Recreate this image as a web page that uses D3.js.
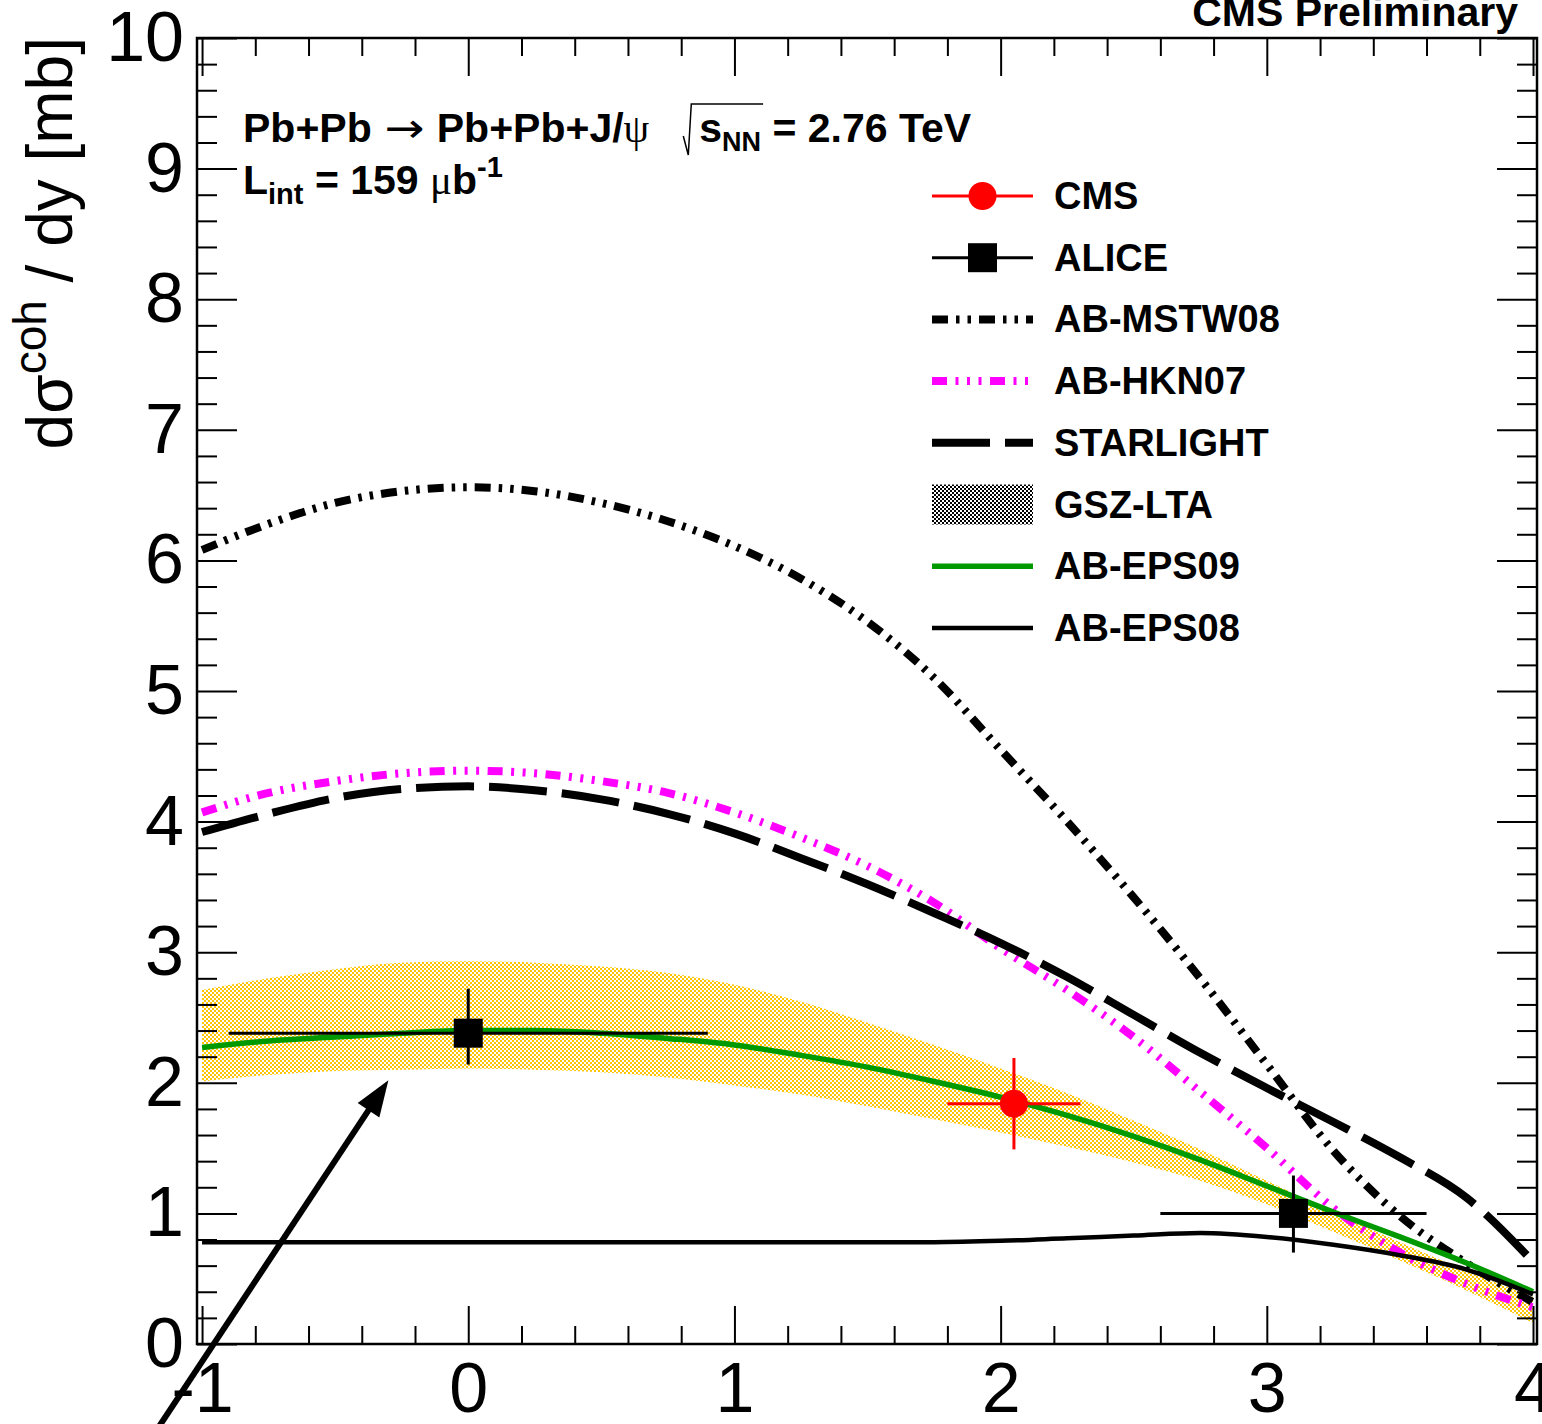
<!DOCTYPE html>
<html>
<head>
<meta charset="utf-8">
<script src="https://cdn.jsdelivr.net/npm/d3@7"></script>
<style>
  html, body { margin: 0; padding: 0; background: #fff; }
  svg { display: block; }
  text { white-space: pre; }
</style>
</head>
<body>
<div id="chart"></div>
<script>
// rapidity grid shared by every theory curve
const rapidity = [-1, -0.75, -0.5, -0.25, 0, 0.25, 0.5, 0.75, 1, 1.25, 1.5, 1.75, 2, 2.25, 2.5, 2.75, 3, 3.25, 3.5, 3.75, 4];

// theory predictions, dsigma/dy in mb
const abMstw08  = [6.08, 6.28, 6.44, 6.53, 6.56, 6.53, 6.44, 6.30, 6.11, 5.86, 5.53, 5.10, 4.55, 4.00, 3.42, 2.80, 2.14, 1.48, 0.98, 0.62, 0.32];
const abHkn07   = [4.07, 4.22, 4.31, 4.37, 4.39, 4.37, 4.31, 4.22, 4.07, 3.88, 3.66, 3.38, 3.03, 2.71, 2.35, 1.93, 1.50, 1.04, 0.70, 0.46, 0.28];
const starlight = [3.92, 4.06, 4.18, 4.25, 4.27, 4.24, 4.17, 4.06, 3.91, 3.72, 3.52, 3.30, 3.07, 2.81, 2.52, 2.23, 1.96, 1.70, 1.43, 1.12, 0.63];
const gszHigh   = [2.71, 2.80, 2.87, 2.92, 2.93, 2.92, 2.89, 2.84, 2.75, 2.62, 2.46, 2.29, 2.11, 1.92, 1.71, 1.49, 1.25, 1.01, 0.78, 0.56, 0.36];
const gszLow    = [2.01, 2.06, 2.09, 2.10, 2.11, 2.10, 2.08, 2.04, 1.98, 1.91, 1.82, 1.72, 1.62, 1.51, 1.39, 1.25, 1.07, 0.86, 0.64, 0.41, 0.16];
const abEps09   = [2.27, 2.32, 2.35, 2.38, 2.40, 2.40, 2.38, 2.34, 2.29, 2.21, 2.12, 2.01, 1.89, 1.75, 1.59, 1.41, 1.21, 1.01, 0.82, 0.62, 0.40];
const abEps08   = [0.78, 0.78, 0.78, 0.78, 0.78, 0.78, 0.78, 0.78, 0.78, 0.78, 0.78, 0.78, 0.79, 0.81, 0.83, 0.85, 0.82, 0.76, 0.68, 0.57, 0.38];

// measurements
const cmsY = [2.05];
const cmsVal = [1.84];
const cmsXErr = [0.25];
const cmsYErr = [0.35];

const aliceY = [0, 3.1];
const aliceVal = [2.38, 1.00];
const aliceXErr = [0.9, 0.5];
const aliceErrUp = [0.34, 0.29];
const aliceErrDown = [0.24, 0.30];

// axes
const xTicks = [-1, 0, 1, 2, 3, 4];
const yTicks = [0, 1, 2, 3, 4, 5, 6, 7, 8, 9, 10];

const legendLabels = ["CMS", "ALICE", "AB-MSTW08", "AB-HKN07", "STARLIGHT", "GSZ-LTA", "AB-EPS09", "AB-EPS08"];

// arrow annotation, in data units (tail, tip)
const arrowTail = [-1.2, -0.75];
const arrowTip = [-0.30, 2.02];

const W = 1542, H = 1424;
const sans = "'Liberation Sans', Arial, Helvetica, sans-serif";
const serif = "'Liberation Serif', 'DejaVu Serif', serif";

const svg = d3.select("#chart").append("svg")
  .attr("width", W)
  .attr("height", H);

const x = d3.scaleLinear().domain([-1.019, 4.015]).range([197, 1537]);
const y = d3.scaleLinear().domain([0, 10]).range([1344, 38]);

const defs = svg.append("defs");
function checker(id, color) {
  const p = defs.append("pattern")
    .attr("id", id)
    .attr("patternUnits", "userSpaceOnUse")
    .attr("width", 4)
    .attr("height", 4);
  p.append("rect").attr("width", 2).attr("height", 2).attr("fill", color);
  p.append("rect").attr("x", 2).attr("y", 2).attr("width", 2).attr("height", 2).attr("fill", color);
}
checker("gszFill", "#ffc400");
checker("gszLegend", "#000");

const clip = defs.append("clipPath").attr("id", "frameClip");
clip.append("rect")
  .attr("x", x.range()[0]).attr("y", y.range()[1])
  .attr("width", x.range()[1] - x.range()[0])
  .attr("height", y.range()[0] - y.range()[1]);

const plot = svg.append("g").attr("clip-path", "url(#frameClip)");

// band
const band = d3.area()
  .x((d, i) => x(rapidity[i]))
  .y0((d, i) => y(gszLow[i]))
  .y1((d, i) => y(gszHigh[i]))
  .curve(d3.curveMonotoneX);

plot.append("path")
  .datum(rapidity)
  .attr("d", band)
  .attr("fill", "url(#gszFill)");

const styles = {
  "AB-MSTW08": { color: "#000", width: 8, dash: "16,8,3.5,8,3.5,8" },
  "AB-HKN07":  { color: "#ff00ff", width: 8, dash: "15,8.5,3,8.5,3,8.5,3,8.5" },
  "STARLIGHT": { color: "#000", width: 8, dash: "58,15" },
  "AB-EPS09":  { color: "#009900", width: 5.5, dash: null },
  "AB-EPS08":  { color: "#000", width: 4.5, dash: null }
};

const curves = [
  ["AB-MSTW08", abMstw08],
  ["AB-HKN07", abHkn07],
  ["STARLIGHT", starlight],
  ["AB-EPS09", abEps09],
  ["AB-EPS08", abEps08]
];

const line = d3.line()
  .x(d => x(d[0]))
  .y(d => y(d[1]))
  .curve(d3.curveMonotoneX);

curves.forEach(([name, vals]) => {
  const s = styles[name];
  plot.append("path")
    .datum(rapidity.map((r, i) => [r, vals[i]]))
    .attr("d", line)
    .attr("fill", "none")
    .attr("stroke", s.color)
    .attr("stroke-width", s.width)
    .attr("stroke-dasharray", s.dash);
});

// ALICE points
aliceY.forEach((r, i) => {
  const g = plot.append("g").attr("stroke", "#000").attr("stroke-width", 3);
  g.append("line")
    .attr("x1", x(r - aliceXErr[i])).attr("x2", x(r + aliceXErr[i]))
    .attr("y1", y(aliceVal[i])).attr("y2", y(aliceVal[i]));
  g.append("line")
    .attr("x1", x(r)).attr("x2", x(r))
    .attr("y1", y(aliceVal[i] + aliceErrUp[i])).attr("y2", y(aliceVal[i] - aliceErrDown[i]));
  plot.append("rect")
    .attr("x", x(r) - 14.5).attr("y", y(aliceVal[i]) - 14.5)
    .attr("width", 29).attr("height", 29)
    .attr("fill", "#000");
});

// CMS point
cmsY.forEach((r, i) => {
  const g = plot.append("g").attr("stroke", "#ff0000").attr("stroke-width", 3);
  g.append("line")
    .attr("x1", x(r - cmsXErr[i])).attr("x2", x(r + cmsXErr[i]))
    .attr("y1", y(cmsVal[i])).attr("y2", y(cmsVal[i]));
  g.append("line")
    .attr("x1", x(r)).attr("x2", x(r))
    .attr("y1", y(cmsVal[i] + cmsYErr[i])).attr("y2", y(cmsVal[i] - cmsYErr[i]));
  plot.append("circle")
    .attr("cx", x(r)).attr("cy", y(cmsVal[i]))
    .attr("r", 14)
    .attr("fill", "#ff0000");
});

// frame and ticks on all four sides
const xMinor = d3.range(-1, 4.0001, 0.2).filter(v => Math.abs(v - Math.round(v)) > 1e-6);
const yMinor = d3.range(0, 10.0001, 0.2).filter(v => Math.abs(v - Math.round(v)) > 1e-6);

function styleAxis(g) {
  g.select(".domain").remove();
  g.selectAll(".tick line").attr("stroke", "#000").attr("stroke-width", 2);
  g.selectAll("text")
    .attr("font-family", sans)
    .attr("font-size", 70)
    .attr("fill", "#000");
}

svg.append("g")
  .attr("transform", `translate(0,${y(0)})`)
  .call(d3.axisBottom(x).tickValues(xTicks).tickSize(-38).tickPadding(18).tickFormat(d => String(d)))
  .call(styleAxis);
svg.append("g")
  .attr("transform", `translate(0,${y(0)})`)
  .call(d3.axisBottom(x).tickValues(xMinor).tickSize(-18).tickFormat(""))
  .call(styleAxis);
svg.append("g")
  .attr("transform", `translate(0,${y(10)})`)
  .call(d3.axisTop(x).tickValues(xTicks).tickSize(-38).tickFormat(""))
  .call(styleAxis);
svg.append("g")
  .attr("transform", `translate(0,${y(10)})`)
  .call(d3.axisTop(x).tickValues(xMinor).tickSize(-18).tickFormat(""))
  .call(styleAxis);

svg.append("g")
  .attr("transform", `translate(${x.range()[0]},0)`)
  .call(d3.axisLeft(y).tickValues(yTicks).tickSize(-40).tickPadding(13).tickFormat(d => String(d)))
  .call(styleAxis);
svg.append("g")
  .attr("transform", `translate(${x.range()[0]},0)`)
  .call(d3.axisLeft(y).tickValues(yMinor).tickSize(-20).tickFormat(""))
  .call(styleAxis);
svg.append("g")
  .attr("transform", `translate(${x.range()[1]},0)`)
  .call(d3.axisRight(y).tickValues(yTicks).tickSize(-40).tickFormat(""))
  .call(styleAxis);
svg.append("g")
  .attr("transform", `translate(${x.range()[1]},0)`)
  .call(d3.axisRight(y).tickValues(yMinor).tickSize(-20).tickFormat(""))
  .call(styleAxis);

svg.append("rect")
  .attr("x", x.range()[0]).attr("y", y.range()[1])
  .attr("width", x.range()[1] - x.range()[0])
  .attr("height", y.range()[0] - y.range()[1])
  .attr("fill", "none")
  .attr("stroke", "#000")
  .attr("stroke-width", 2.5);

// y axis title
const yTitle = svg.append("text")
  .attr("transform", "translate(72,37) rotate(-90)")
  .attr("text-anchor", "end")
  .attr("font-family", sans)
  .attr("font-size", 64)
  .attr("fill", "#000");
yTitle.append("tspan").text("dσ");
yTitle.append("tspan").attr("font-size", 46).attr("dy", -26).text("coh");
yTitle.append("tspan").attr("dy", 26).text(" / dy [mb]");

svg.append("text")
  .attr("x", 1518).attr("y", 26)
  .attr("text-anchor", "end")
  .attr("font-family", sans)
  .attr("font-weight", "bold")
  .attr("font-size", 41)
  .text("CMS Preliminary");

// header text, laid out piece by piece
function flow(x0, base, pieces) {
  let cx = x0;
  const marks = {};
  pieces.forEach(p => {
    if (p.gap) { cx += p.gap; return; }
    if (p.mark) { marks[p.mark] = cx; return; }
    const t = svg.append("text")
      .attr("x", cx)
      .attr("y", base + (p.dy || 0))
      .attr("font-family", p.family || sans)
      .attr("font-weight", p.weight || "bold")
      .attr("font-size", p.size || 41)
      .attr("fill", "#000")
      .text(p.text);
    if (p.width) {
      t.attr("textLength", p.width).attr("lengthAdjust", "spacingAndGlyphs");
      cx += p.width;
    } else {
      cx += t.node().getComputedTextLength();
    }
  });
  marks.end = cx;
  return marks;
}

const base1 = 142;
const m1 = flow(243, base1, [
  { text: "Pb+Pb" },
  { gap: 13 },
  { text: "→", weight: "normal", family: "'DejaVu Sans', sans-serif", width: 40 },
  { gap: 12 },
  { text: "Pb+Pb+J/" },
  { text: "ψ", weight: "normal", family: serif },
  { gap: 36 },
  { mark: "rad" },
  { gap: 14 },
  { text: "s" },
  { text: "NN", size: 27, dy: 9 },
  { mark: "radEnd" },
  { text: " = 2.76 TeV" }
]);
svg.append("path")
  .attr("d", `M${m1.rad - 2},${base1 - 6} L${m1.rad + 3},${base1 + 13} L${m1.rad + 6},${base1 - 38} L${m1.radEnd + 2},${base1 - 38}`)
  .attr("fill", "none")
  .attr("stroke", "#000")
  .attr("stroke-width", 1.5);

flow(243, 194, [
  { text: "L" },
  { text: "int", size: 29, dy: 10 },
  { text: " = 159 " },
  { text: "μ", weight: "normal", family: serif },
  { text: "b" },
  { text: "-1", size: 29, dy: -17 }
]);

// legend
const legendTop = 196, legendStep = 61.7;
const lx0 = 932, lx1 = 1033;
const legend = svg.append("g");
legendLabels.forEach((name, i) => {
  const cy = legendTop + i * legendStep;
  const s = styles[name];
  if (name === "CMS" || name === "ALICE") {
    const col = name === "CMS" ? "#ff0000" : "#000";
    legend.append("line")
      .attr("x1", lx0).attr("x2", lx1).attr("y1", cy).attr("y2", cy)
      .attr("stroke", col).attr("stroke-width", 3);
    if (name === "CMS") {
      legend.append("circle").attr("cx", (lx0 + lx1) / 2).attr("cy", cy).attr("r", 14).attr("fill", col);
    } else {
      legend.append("rect").attr("x", (lx0 + lx1) / 2 - 14.5).attr("y", cy - 14.5)
        .attr("width", 29).attr("height", 29).attr("fill", col);
    }
  } else if (name === "GSZ-LTA") {
    legend.append("rect")
      .attr("x", lx0).attr("y", cy - 20)
      .attr("width", lx1 - lx0).attr("height", 40)
      .attr("fill", "url(#gszLegend)");
  } else {
    legend.append("line")
      .attr("x1", lx0).attr("x2", lx1).attr("y1", cy).attr("y2", cy)
      .attr("stroke", s.color)
      .attr("stroke-width", s.width)
      .attr("stroke-dasharray", s.dash);
  }
  legend.append("text")
    .attr("x", 1054).attr("y", cy + 13)
    .attr("font-family", sans)
    .attr("font-weight", "bold")
    .attr("font-size", 38)
    .attr("fill", "#000")
    .text(name);
});

// arrow pointing at the mid-rapidity ALICE point
const ax0 = x(arrowTail[0]), ay0 = y(arrowTail[1]);
const ax1 = x(arrowTip[0]), ay1 = y(arrowTip[1]);
const len = Math.hypot(ax1 - ax0, ay1 - ay0);
const ux = (ax1 - ax0) / len, uy = (ay1 - ay0) / len;
const headLen = 36, headHalf = 13;
svg.append("line")
  .attr("x1", ax0).attr("y1", ay0)
  .attr("x2", ax1 - ux * (headLen - 4)).attr("y2", ay1 - uy * (headLen - 4))
  .attr("stroke", "#000")
  .attr("stroke-width", 6);
const bx = ax1 - ux * headLen, by = ay1 - uy * headLen;
svg.append("path")
  .attr("d", `M${ax1},${ay1} L${bx - uy * headHalf},${by + ux * headHalf} L${bx + uy * headHalf},${by - ux * headHalf} Z`)
  .attr("fill", "#000");
</script>
</body>
</html>
